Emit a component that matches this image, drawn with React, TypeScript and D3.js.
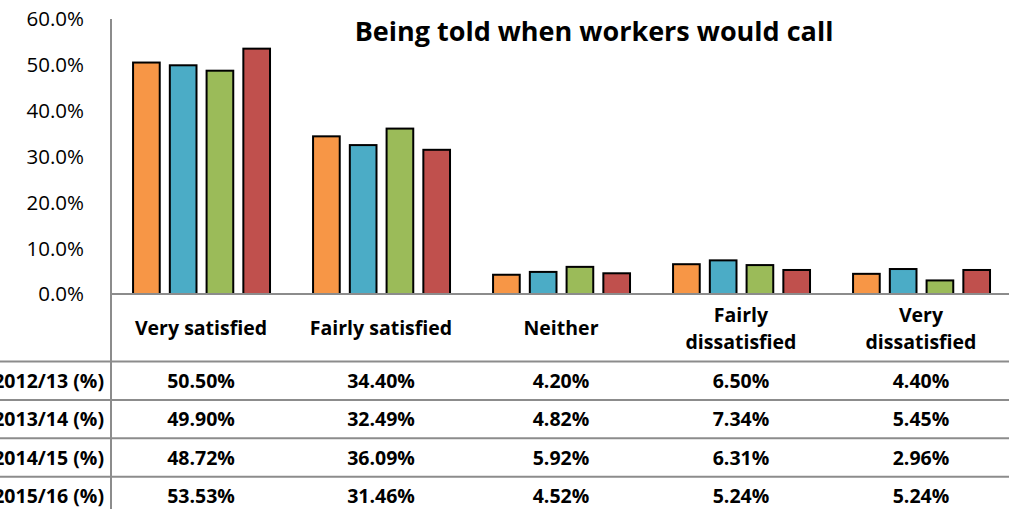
import React, { useEffect, useRef } from 'react';
import * as d3 from 'd3';

const categories = ['Very satisfied', 'Fairly satisfied', 'Neither', 'Fairly dissatisfied', 'Very dissatisfied'];
const categoryLines = [['Very satisfied'], ['Fairly satisfied'], ['Neither'], ['Fairly', 'dissatisfied'], ['Very', 'dissatisfied']];
const seriesNames = ['2012/13 (%)', '2013/14 (%)', '2014/15 (%)', '2015/16 (%)'];
const values2012 = [50.5, 34.4, 4.2, 6.5, 4.4];
const values2013 = [49.9, 32.49, 4.82, 7.34, 5.45];
const values2014 = [48.72, 36.09, 5.92, 6.31, 2.96];
const values2015 = [53.53, 31.46, 4.52, 5.24, 5.24];
const yTicks = [0, 10, 20, 30, 40, 50, 60];
const colors = ['#F79646', '#4BACC6', '#9BBB59', '#C0504D'];
const title = 'Being told when workers would call';

const App = () => {
  const ref = useRef(null);

  useEffect(() => {
    const series = [values2012, values2013, values2014, values2015];
    const svg = d3.select(ref.current);
    svg.selectAll('*').remove();

    const font = '"Open Sans", Lato, sans-serif';
    const left = 111;
    const top = 19;
    const base = 294;
    const gridColor = '#8C8C8C';

    const y = d3.scaleLinear().domain([0, 60]).range([base, top]);
    const x0 = d3.scaleBand().domain(categories).range([left, left + 900]).padding(0);
    const bw = x0.bandwidth();
    const x1 = d3.scaleBand().domain(seriesNames).range([bw * 0.117, bw * 0.889]).paddingInner(0.22).paddingOuter(0);

    // title
    svg.append('text')
      .attr('x', 594)
      .attr('y', 41)
      .attr('text-anchor', 'middle')
      .attr('font-family', font)
      .attr('font-weight', 'bold')
      .attr('font-size', 27)
      .attr('fill', '#000')
      .text(title);

    // y tick labels
    svg.append('g').selectAll('text')
      .data(yTicks)
      .enter().append('text')
      .attr('x', 84)
      .attr('y', d => y(d))
      .attr('dy', '0.36em')
      .attr('text-anchor', 'end')
      .attr('font-family', font)
      .attr('font-size', 20.5)
      .attr('fill', '#000')
      .text(d => d3.format('.1f')(d) + '%');

    // bars
    const groups = svg.append('g').selectAll('g')
      .data(categories)
      .enter().append('g')
      .attr('transform', d => `translate(${x0(d)},0)`);

    groups.selectAll('rect')
      .data((d, ci) => series.map((s, si) => ({ name: seriesNames[si], value: s[ci], color: colors[si] })))
      .enter().append('rect')
      .attr('x', d => x1(d.name) + 1)
      .attr('y', d => y(d.value))
      .attr('width', x1.bandwidth() - 2)
      .attr('height', d => base - y(d.value))
      .attr('fill', d => d.color)
      .attr('stroke', '#000')
      .attr('stroke-width', 2);

    // axes / table lines
    svg.append('line')
      .attr('x1', left).attr('x2', left)
      .attr('y1', top).attr('y2', 509)
      .attr('stroke', gridColor).attr('stroke-width', 2);

    svg.append('line')
      .attr('x1', left).attr('x2', 1009)
      .attr('y1', base).attr('y2', base)
      .attr('stroke', gridColor).attr('stroke-width', 2);

    const rowTop = 361.5;
    const rowH = 38.4;
    svg.append('g').selectAll('line')
      .data(seriesNames)
      .enter().append('line')
      .attr('x1', 0).attr('x2', 1009)
      .attr('y1', (d, i) => rowTop + i * rowH)
      .attr('y2', (d, i) => rowTop + i * rowH)
      .attr('stroke', gridColor).attr('stroke-width', 2);

    // category labels
    groups.append('text')
      .attr('text-anchor', 'middle')
      .attr('font-family', font)
      .attr('font-weight', 'bold')
      .attr('font-size', 19.5)
      .attr('fill', '#000')
      .selectAll('tspan')
      .data((d, i) => categoryLines[i].map((t, j, arr) => ({ t, j, n: arr.length })))
      .enter().append('tspan')
      .attr('x', bw / 2)
      .attr('y', d => (d.n === 1 ? 328 : 315 + d.j * 27))
      .attr('dy', '0.36em')
      .text(d => d.t);

    // table rows (row labels run off the left edge, as in the source)
    seriesNames.forEach((name, si) => {
      const cy = rowTop + si * rowH + rowH / 2;
      svg.append('text')
        .attr('x', 104)
        .attr('y', cy)
        .attr('dy', '0.36em')
        .attr('text-anchor', 'end')
        .attr('font-family', font)
        .attr('font-weight', 'bold')
        .attr('font-size', 19.5)
        .attr('fill', '#000')
        .text(name);
      svg.append('g').selectAll('text')
        .data(series[si])
        .enter().append('text')
        .attr('x', (d, ci) => x0(categories[ci]) + bw / 2)
        .attr('y', cy)
        .attr('dy', '0.36em')
        .attr('text-anchor', 'middle')
        .attr('font-family', font)
        .attr('font-weight', 'bold')
        .attr('font-size', 19.5)
        .attr('fill', '#000')
        .text(d => d.toFixed(2) + '%');
    });
  }, []);

  return (
    <svg ref={ref} width={1009} height={509}
      style={{ position: 'absolute', left: 0, top: 0, background: '#fff' }} />
  );
};

export default App;
